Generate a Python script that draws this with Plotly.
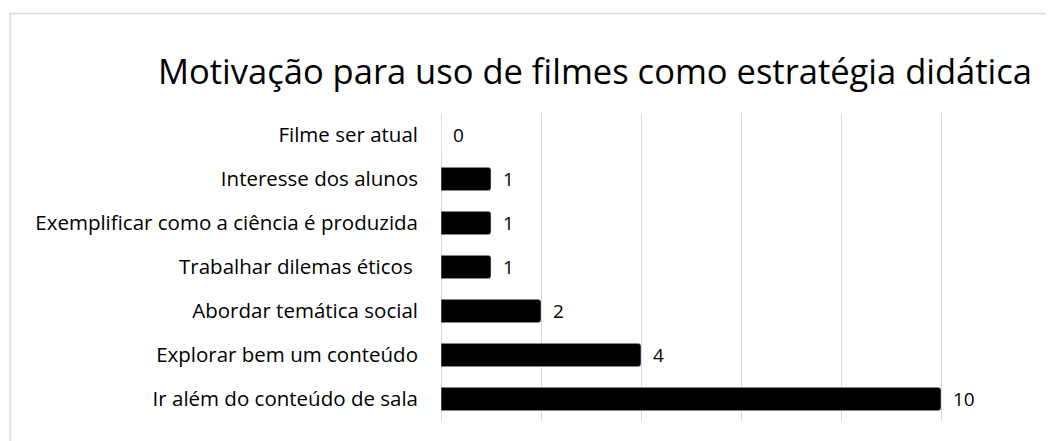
"""Motivação para uso de filmes - horizontal bar chart"""

import plotly.graph_objects as go

# categories listed top to bottom as shown in the chart
categories = [
    "Filme ser atual",
    "Interesse dos alunos",
    "Exemplificar como a ciência é produzida",
    "Trabalhar dilemas éticos ",
    "Abordar temática social",
    "Explorar bem um conteúdo",
    "Ir além do conteúdo de sala",
]
counts = [0, 1, 1, 1, 2, 4, 10]

title_text = "Motivação para uso de filmes como estratégia didática"
font_family = "Open Sans, Liberation Sans, sans-serif"

# the page body has an 8px margin, so the figure is sized to fit inside it
fig_w, fig_h = 1046, 433

fig = go.Figure()

fig.add_trace(
    go.Bar(
        x=counts,
        y=categories,
        orientation="h",
        marker=dict(color="#000000", cornerradius=3),
        width=0.53,
        hoverinfo="skip",
    )
)

# value labels a little to the right of each bar end
for cat, val in zip(categories, counts):
    fig.add_annotation(
        x=val,
        y=cat,
        xref="x",
        yref="y",
        text=str(val),
        showarrow=False,
        xanchor="left",
        xshift=10,
        font=dict(family=font_family, size=19, color="#000000"),
    )

fig.update_layout(
    width=fig_w,
    height=fig_h,
    margin=dict(l=433, r=13, t=105, b=20),
    paper_bgcolor="white",
    plot_bgcolor="white",
    showlegend=False,
    title=dict(
        text=title_text,
        font=dict(family=font_family, size=34.5, color="#000000"),
        xref="container",
        x=587 / fig_w,
        xanchor="center",
        yref="container",
        y=1 - 64 / fig_h,
        yanchor="middle",
    ),
    font=dict(family=font_family, color="#000000"),
)

fig.update_xaxes(
    range=[0, 12],
    dtick=2,
    showgrid=True,
    gridcolor="#d9d9d9",
    gridwidth=1,
    zeroline=True,
    zerolinecolor="#d9d9d9",
    zerolinewidth=1,
    showticklabels=False,
    showline=False,
    fixedrange=True,
)

fig.update_yaxes(
    autorange="reversed",
    showgrid=False,
    showline=False,
    tickfont=dict(family=font_family, size=20.5, color="#000000"),
    ticklabelstandoff=22,
    fixedrange=True,
)

# light outer frame of the chart area
fig.add_shape(
    type="rect",
    xref="paper",
    yref="paper",
    x0=-0.718,
    x1=1.2,
    y0=-0.2,
    y1=1.323,
    line=dict(color="#d9d9d9", width=1.5),
    fillcolor="rgba(0,0,0,0)",
    layer="below",
)

fig.write_html("out.html")
